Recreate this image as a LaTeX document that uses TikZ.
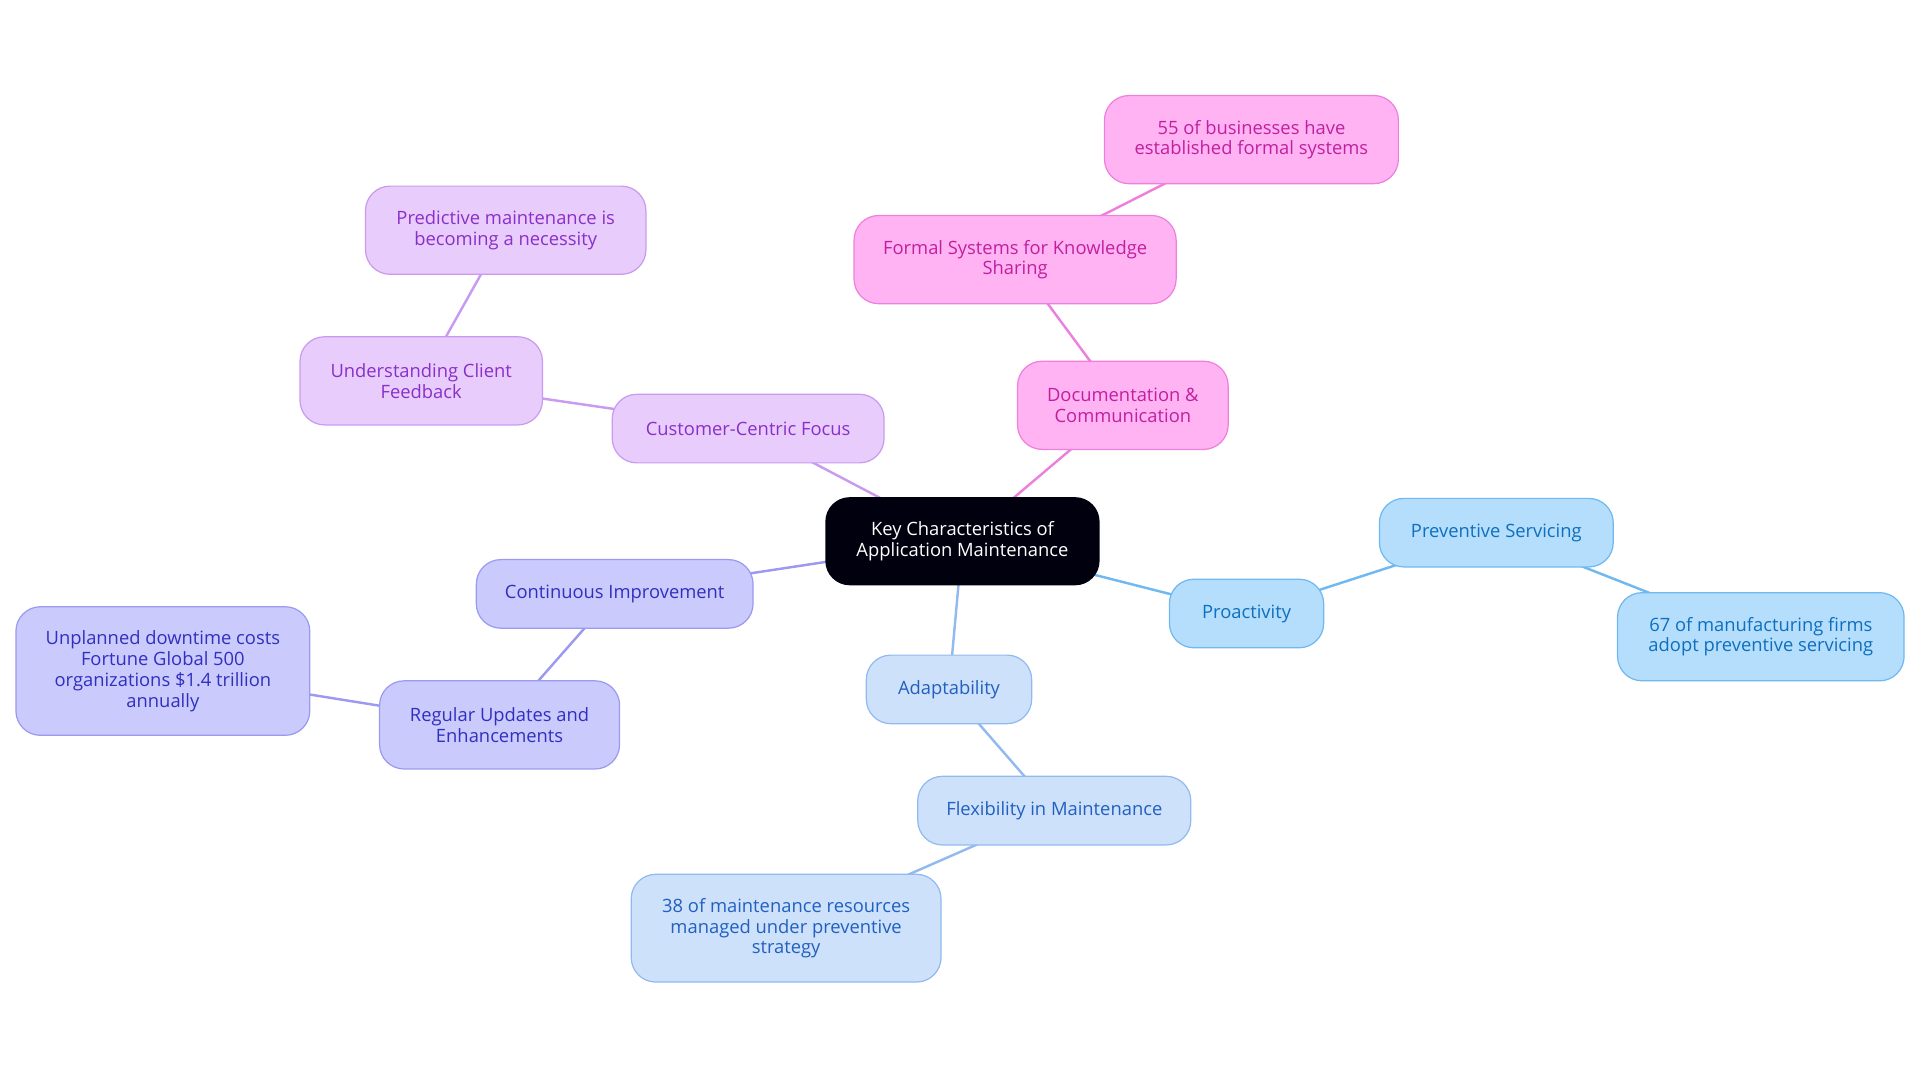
\documentclass[tikz,border=0pt]{standalone}
\usepackage{fontspec}
\setmainfont{Open Sans}
\usetikzlibrary{backgrounds}
\definecolor{pf}{HTML}{E8CCFB}\definecolor{pd}{HTML}{C99BF0}\definecolor{pt}{HTML}{8A2FC9}
\definecolor{kf}{HTML}{FFB3F2}\definecolor{kd}{HTML}{EE80DD}\definecolor{kt}{HTML}{C0209F}
\definecolor{vf}{HTML}{CACAFD}\definecolor{vd}{HTML}{9C9AF0}\definecolor{vt}{HTML}{3030BF}
\definecolor{lf}{HTML}{CDE1FA}\definecolor{ld}{HTML}{92BAF0}\definecolor{lt}{HTML}{2160C0}
\definecolor{sf}{HTML}{B4DEFC}\definecolor{sd}{HTML}{70B8F0}\definecolor{st}{HTML}{0F6FBF}
\tikzset{x=1pt,y=-1pt,
 box/.style={draw,line width=1pt,rounded corners=20pt,align=center,font=\fontsize{15}{17}\selectfont,inner sep=0pt},
 P/.style={box,fill=pf,draw=pd,text=pt},K/.style={box,fill=kf,draw=kd,text=kt},
 V/.style={box,fill=vf,draw=vd,text=vt},L/.style={box,fill=lf,draw=ld,text=lt},
 S/.style={box,fill=sf,draw=sd,text=st},
 e/.style={line width=2pt}}
\begin{document}
\begin{tikzpicture}
\useasboundingbox (0,0) rectangle (1568,884);
\node[box,fill=black!90!blue!60!black,draw=none,text=white,minimum width=224,minimum height=72] (c) at (786,442) {Key Characteristics of\\Application Maintenance};
\node[P,minimum width=222,minimum height=56] (ccf) at (611,350) {Customer-Centric Focus};
\node[P,minimum width=198,minimum height=72] (ucf) at (344,311) {Understanding Client\\Feedback};
\node[P,minimum width=229,minimum height=72] (pm) at (413,188) {Predictive maintenance is\\becoming a necessity};
\node[K,minimum width=172,minimum height=72] (dc) at (917,331) {Documentation \&\\Communication};
\node[K,minimum width=263,minimum height=72] (fs) at (829,212) {Formal Systems for Knowledge\\Sharing};
\node[K,minimum width=240,minimum height=72] (b55) at (1022,114) {55 of businesses have\\established formal systems};
\node[S,minimum width=126,minimum height=56] (pr) at (1018,501) {Proactivity};
\node[S,minimum width=191,minimum height=56] (ps) at (1222,435) {Preventive Servicing};
\node[S,minimum width=234,minimum height=72] (m67) at (1438,520) {67 of manufacturing firms\\adopt preventive servicing};
\node[L,minimum width=135,minimum height=56] (ad) at (775,563) {Adaptability};
\node[L,minimum width=223,minimum height=56] (fm) at (861,662) {Flexibility in Maintenance};
\node[L,minimum width=253,minimum height=88] (r38) at (642,758) {38 of maintenance resources\\managed under preventive\\strategy};
\node[V,minimum width=226,minimum height=56] (ci) at (502,485) {Continuous Improvement};
\node[V,minimum width=196,minimum height=72] (ru) at (408,592) {Regular Updates and\\Enhancements};
\node[V,minimum width=240,minimum height=105] (ud) at (133,548) {Unplanned downtime costs\\Fortune Global 500\\organizations \$1.4 trillion\\annually};
\begin{scope}[on background layer]
\draw[e,pd] (c.center)--(ccf.center) (ccf.center)--(ucf.center) (ucf.center)--(pm.center);
\draw[e,kd] (c.center)--(dc.center) (dc.center)--(fs.center) (fs.center)--(b55.center);
\draw[e,sd] (c.center)--(pr.center) (pr.center)--(ps.center) (ps.center)--(m67.center);
\draw[e,ld] (c.center)--(ad.center) (ad.center)--(fm.center) (fm.center)--(r38.center);
\draw[e,vd] (c.center)--(ci.center) (ci.center)--(ru.center) (ru.center)--(ud.center);
\end{scope}
\end{tikzpicture}
\end{document}
